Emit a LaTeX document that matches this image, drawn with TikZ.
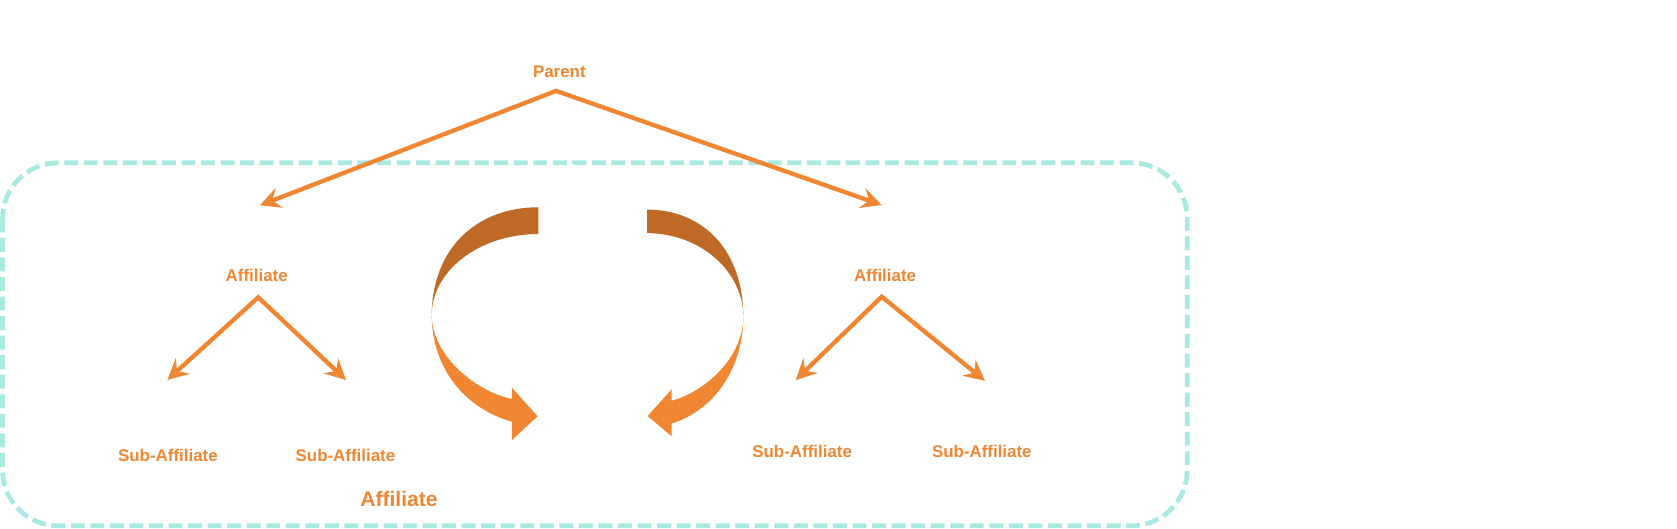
\documentclass[tikz,border=0pt]{standalone}
\usepackage{fontspec}
\setmainfont{Liberation Sans}
\usetikzlibrary{arrows.meta}
\definecolor{orgorange}{HTML}{F08632}
\definecolor{loopbrown}{HTML}{BE6A26}
\definecolor{boxcyan}{HTML}{A8E9E2}
\begin{document}
\begin{tikzpicture}[x=0.02cm,y=-0.02cm,
        orglabel/.style={text=orgorange, font=\bfseries\fontsize{9}{10}\selectfont},
        orglink/.style={orgorange, line width=2.3pt,
            {Stealth[length=11pt,width=11pt,inset=4pt]}-{Stealth[length=11pt,width=11pt,inset=4pt]}}]
            \useasboundingbox (0,0) rectangle (1568,494.6);
            % dashed group box
            \draw [boxcyan, line width=2.5pt, dash pattern=on 7.4pt off 3pt, rounded corners=1.04cm] (2.4,152.2) rectangle (1110,491.6);
            \node [orglabel] (parent) at (523,66.8) {Parent};
            \node [orglabel] (affleft) at (240,257.5) {Affiliate};
            \node [orglabel] (affright) at (827.5,257.5) {Affiliate};
            \node [orglabel] (subll) at (157,426) {Sub-Affiliate};
            \node [orglabel] (sublr) at (323,425.5) {Sub-Affiliate};
            \node [orglabel] (subrl) at (750,422) {Sub-Affiliate};
            \node [orglabel] (subrr) at (918,422) {Sub-Affiliate};
            \node [orglabel, font=\bfseries\fontsize{11.2}{13}\selectfont] (affbox) at (373,467) {Affiliate};
            \coordinate (parentfork) at (520,85);
            \coordinate (leftend) at (243,192);
            \coordinate (rightend) at (824.4,191.7);
            \coordinate (leftfork) at (241.5,278);
            \coordinate (rightfork) at (824.4,277.4);
            \coordinate (llend) at (156.5,355.3);
            \coordinate (lrend) at (323.5,355.3);
            \coordinate (rlend) at (744,355.3);
            \coordinate (rrend) at (921,356);
            \draw [orglink] (leftend) -- (parentfork) -- (rightend);
            \draw [orglink] (llend) -- (leftfork) -- (lrend);
            \draw [orglink] (rlend) -- (rightfork) -- (rrend);
            % left loop
            \fill [loopbrown] (503.4,193.8) -- (503.4,218.8) .. controls (448.5,218.8) and (404,252.7) .. (403.6,294.5)
                .. controls (404,234) and (443.8,193.8) .. (503.4,193.8) -- cycle;
            \fill [orgorange] (403.6,294.5) .. controls (404,345) and (435,382) .. (478.7,394.3) -- (478.7,411.4) -- (502.7,389.2)
                -- (478.7,362.5) -- (478.7,373.1) .. controls (445,366) and (404,333) .. (403.6,294.5) -- cycle;
            % right loop
            \fill [loopbrown] (605,196) -- (605,218) .. controls (655.3,218) and (695,254.4) .. (695,296)
                .. controls (695,236) and (659,196) .. (605,196) -- cycle;
            \fill [orgorange] (695,296) .. controls (695,345) and (667,384) .. (628,396) -- (628,408) -- (605.6,389)
                -- (628,364) -- (628,374.6) .. controls (658,367) and (695,335) .. (695,296) -- cycle;
        \end{tikzpicture}
\end{document}
